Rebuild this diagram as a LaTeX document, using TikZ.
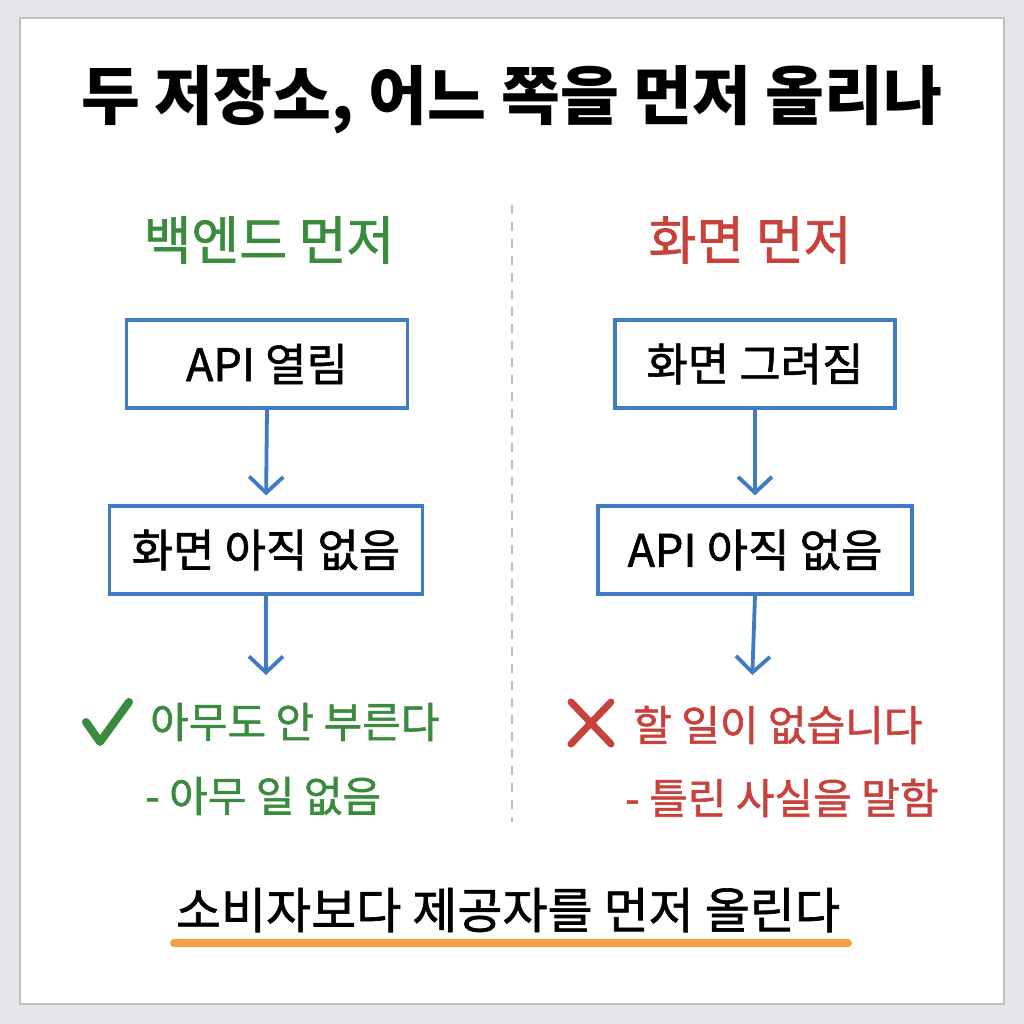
\documentclass[tikz,border=0pt]{standalone}
\usepackage{fontspec}
\setmainfont{Noto Sans CJK KR}
\newfontfamily\medfont{Noto Sans CJK KR}[FakeBold=1.3]
\usetikzlibrary{arrows.meta}

\definecolor{pagegray}{HTML}{E5E6EA}
\definecolor{cardedge}{HTML}{BFC0C4}
\definecolor{backgreen}{HTML}{3B8B3F}
\definecolor{screenred}{HTML}{C8413B}
\definecolor{boxblue}{HTML}{3F7CC4}
\definecolor{marker}{HTML}{F0A244}
\definecolor{splitgray}{HTML}{BDBDBD}

\begin{document}
\begin{tikzpicture}[x=1pt, y=-1pt,
    flowbox/.style={draw=boxblue, line width=3.2pt, fill=white, minimum height=88pt, inner sep=0pt, font=\fontsize{45}{52}\medfont},
    flowarrow/.style={draw=boxblue, line width=3.8pt, -{Straight Barb[length=16pt, width=34pt]}, shorten >=9pt},
    heading/.style={font=\fontsize{52}{60}\medfont},
    outcome/.style={anchor=west, inner sep=0pt, font=\fontsize{42}{48}\medfont}]
  \useasboundingbox (0,0) rectangle (1024,1024);
  \fill[pagegray] (0,0) rectangle (1024,1024);
  \draw[cardedge, line width=2pt, fill=white] (20,18) rectangle (1004,1004);

  % title and column headings
  \node[font=\fontsize{64}{72}\selectfont\bfseries] (title) at (512,100) {두 저장소, 어느 쪽을 먼저 올리나};
  \node[heading, text=backgreen] (lhead) at (269,240) {백엔드 먼저};
  \node[heading, text=screenred] (rhead) at (750,240) {화면 먼저};

  \coordinate (splittop) at (512,205);
  \coordinate (splitbot) at (512,822);
  \draw[splitgray, line width=2.5pt, dash pattern=on 9pt off 8pt] (splittop) -- (splitbot);

  % backend first
  \node[flowbox, minimum width=281pt] (l1) at (267,364) {API 열림};
  \node[flowbox, minimum width=313pt] (l2) at (266,550) {화면 아직 없음};
  \coordinate (lend) at (266,684);
  \draw[flowarrow] (l1.south) -- (l2.north);
  \draw[flowarrow] (l2.south) -- (lend);

  \draw[backgreen, line width=8pt, line cap=round, line join=round] (86,722) -- (100,742) -- (129,702);
  \node[outcome, text=backgreen] (lres1) at (150,722) {아무도 안 부른다};
  \node[outcome, text=backgreen] (lres2) at (145,796) {- 아무 일 없음};

  % screen first
  \node[flowbox, minimum width=280pt] (r1) at (755,364) {화면 그려짐};
  \node[flowbox, minimum width=314pt] (r2) at (755,550) {API 아직 없음};
  \coordinate (rend) at (752,684);
  \draw[flowarrow] (r1.south) -- (r2.north);
  \draw[flowarrow] (r2.south) -- (rend);

  \draw[screenred, line width=7pt, line cap=round] (571,702) -- (611,744);
  \draw[screenred, line width=7pt, line cap=round] (611,702) -- (571,744);
  \node[outcome, text=screenred] (rres1) at (633,725) {할 일이 없습니다};
  \node[outcome, text=screenred] (rres2) at (625,798) {- 틀린 사실을 말함};

  % rule
  \node[font=\fontsize{49}{56}\medfont] (rule) at (508,910) {소비자보다 제공자를 먼저 올린다};
  \coordinate (ulstart) at (174,943);
  \coordinate (ulend) at (848,943);
  \draw[marker, line width=8pt, line cap=round] (ulstart) -- (ulend);
\end{tikzpicture}
\end{document}
